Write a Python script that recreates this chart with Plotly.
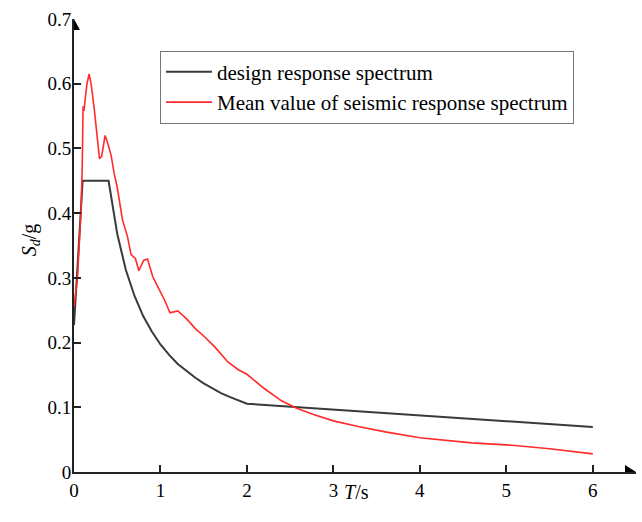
import plotly.graph_objects as go

# Design response spectrum
design_T = [0.0, 0.1, 0.4, 0.5, 0.6, 0.7, 0.8, 0.9, 1.0, 1.1, 1.2, 1.3, 1.4,
            1.5, 1.6, 1.7, 1.8, 1.9, 2.0, 6.0]
design_S = [0.227, 0.45, 0.45, 0.368, 0.312, 0.272, 0.241, 0.217, 0.197, 0.181,
            0.167, 0.156, 0.146, 0.137, 0.129, 0.122, 0.116, 0.111, 0.1055, 0.0695]

# Mean value of seismic response spectrum
mean_T = [0.0, 0.04, 0.08, 0.095, 0.105, 0.115, 0.125, 0.15, 0.175, 0.2, 0.235,
          0.265, 0.295, 0.32, 0.36, 0.39, 0.43, 0.465, 0.5, 0.56, 0.62, 0.66,
          0.71, 0.75, 0.805, 0.85, 0.91, 0.97, 1.05, 1.11, 1.2, 1.3, 1.4, 1.51,
          1.63, 1.78, 1.9, 2.0, 2.2, 2.4, 2.57, 2.77, 3.0, 3.3, 3.6, 4.0, 4.35,
          4.6, 5.1, 5.5, 6.0]
mean_S = [0.255, 0.30, 0.40, 0.47, 0.565, 0.558, 0.57, 0.60, 0.615, 0.598, 0.56,
          0.523, 0.484, 0.488, 0.52, 0.508, 0.489, 0.461, 0.44, 0.39, 0.363, 0.336,
          0.33, 0.311, 0.327, 0.329, 0.302, 0.286, 0.265, 0.246, 0.249, 0.237,
          0.222, 0.209, 0.193, 0.17, 0.158, 0.151, 0.129, 0.11, 0.099, 0.089,
          0.079, 0.07, 0.062, 0.053, 0.048, 0.045, 0.041, 0.036, 0.028]

x_ticks = [0, 1, 2, 3, 4, 5, 6]
y_ticks = [0, 0.1, 0.2, 0.3, 0.4, 0.5, 0.6, 0.7]
y_tick_labels = ["0", "0.1", "0.2", "0.3", "0.4", "0.5", "0.6", "0.7"]

FONT = "Liberation Serif, Times New Roman, serif"

fig = go.Figure()
fig.add_trace(go.Scatter(x=design_T, y=design_S, mode="lines",
                         name="design response spectrum",
                         line=dict(color="#3a3a3a", width=2)))
fig.add_trace(go.Scatter(x=mean_T, y=mean_S, mode="lines",
                         name="Mean value of seismic response spectrum",
                         line=dict(color="#ff2a2a", width=1.6)))

fig.update_layout(
    width=642, height=522,
    margin=dict(l=74, r=6, t=19, b=50),
    plot_bgcolor="white", paper_bgcolor="white",
    font=dict(family=FONT, size=19, color="black"),
    showlegend=True,
    legend=dict(x=0.153, y=0.93, xanchor="left", yanchor="top",
                bgcolor="white", bordercolor="#777777", borderwidth=1,
                font=dict(family=FONT, size=21, color="black"),
                itemwidth=46, tracegroupgap=0),
    xaxis=dict(range=[0, 6.5], tickvals=x_ticks, ticks="inside", ticklen=7,
               tickwidth=1.5, tickcolor="#222", showline=True, linecolor="#222",
               linewidth=2, showgrid=False, zeroline=False,
               tickfont=dict(family=FONT, size=19, color="black")),
    yaxis=dict(range=[0, 0.7], tickvals=y_ticks, ticktext=y_tick_labels,
               ticks="inside", ticklen=7, tickwidth=1.5, tickcolor="#222",
               showline=True, linecolor="#222", linewidth=2, showgrid=False,
               zeroline=False, ticklabelstandoff=-3,
               tickfont=dict(family=FONT, size=19, color="black")),
)

# arrowheads on the axes
fig.add_shape(type="path", xref="x", yref="y", xsizemode="pixel",
              ysizemode="pixel", xanchor=6.5, yanchor=0,
              path="M-11,-7 L0,0 L-11,7 Z", fillcolor="black",
              line=dict(color="black", width=0))
fig.add_shape(type="path", xref="x", yref="y", xsizemode="pixel",
              ysizemode="pixel", xanchor=0, yanchor=0.7,
              path="M-6,-11 L0,0 L6,-11 Z", fillcolor="black",
              line=dict(color="black", width=0))

# axis titles
fig.add_annotation(xref="x", yref="paper", x=3.27, y=0, yshift=-20,
                   xanchor="center", yanchor="middle",
                   text="<i>T</i>/s", showarrow=False,
                   font=dict(family=FONT, size=20, color="black"))
fig.add_annotation(xref="paper", yref="y", x=0, y=0.358, xshift=-44,
                   xanchor="center", yanchor="middle",
                   text="<i>S</i><sub><i>d</i></sub>/g", showarrow=False,
                   textangle=-90,
                   font=dict(family=FONT, size=20, color="black"))

fig.write_html("out.html")
